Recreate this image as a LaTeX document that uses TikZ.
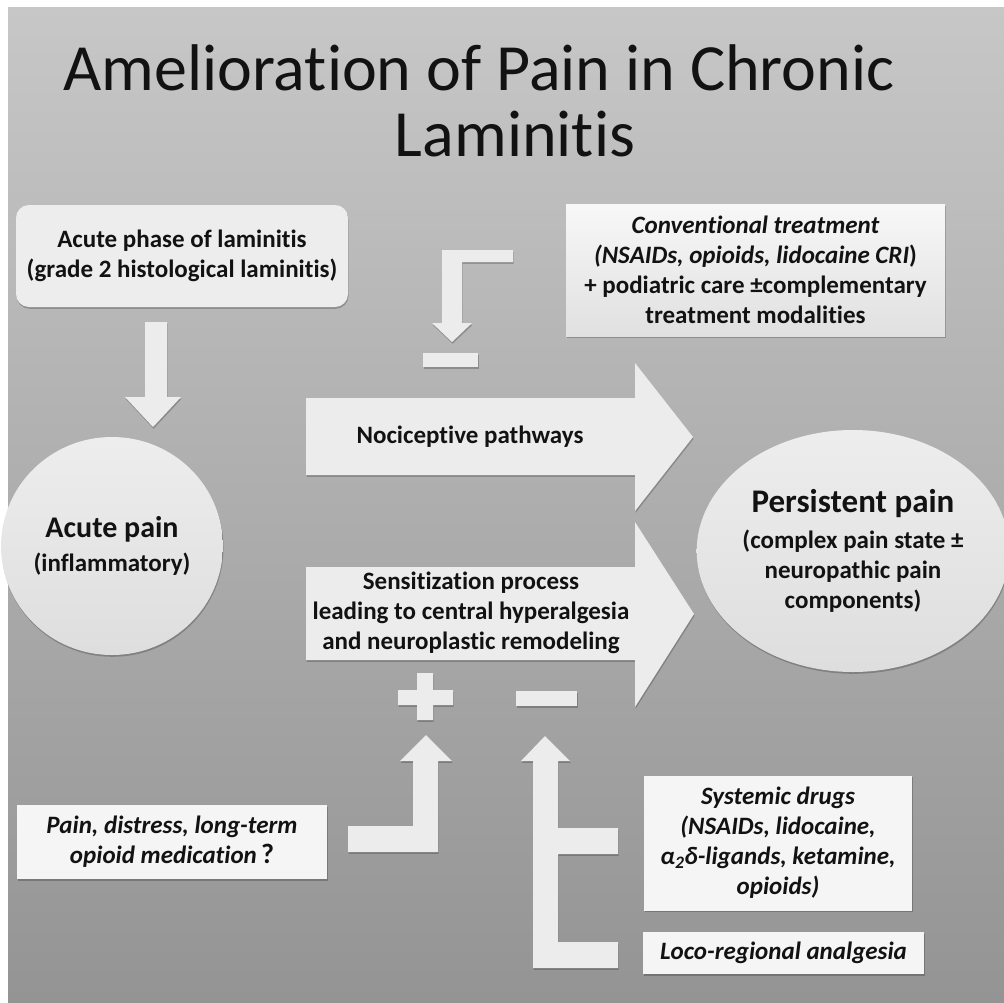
\documentclass[tikz,border=0pt]{standalone}
\usepackage{fontspec}
\setmainfont{Carlito}[Ligatures={NoCommon}]
\usetikzlibrary{shapes.geometric,shadows}
\definecolor{bgA}{gray}{0.50}
\definecolor{bgB}{gray}{0.56}
\definecolor{bgC}{gray}{0.68}
\definecolor{bgD}{gray}{0.80}
\definecolor{bgE}{gray}{0.91}
\definecolor{arrowc}{gray}{0.925}
\definecolor{boxc}{gray}{0.93}
\definecolor{whitebox}{gray}{0.96}
\definecolor{elltop}{gray}{0.93}
\definecolor{ellbot}{gray}{0.87}
\definecolor{inkc}{gray}{0.07}
\pgfdeclareverticalshading{bgshade}{100bp}{color(0bp)=(bgA); color(20bp)=(bgB); color(50bp)=(bgC); color(80bp)=(bgD); color(100bp)=(bgE)}
\begin{document}
\begin{tikzpicture}[x=1pt,y=-1pt,
  txt/.style={font=\fontsize{25}{30}\selectfont\bfseries, text=inkc, align=center},
  itxt/.style={font=\fontsize{25}{30}\selectfont\bfseries\itshape, text=inkc, align=center},
  softshadow/.style={drop shadow={shadow xshift=0.6pt, shadow yshift=-1.8pt, opacity=0.22, fill=black}},
  blockarrow/.style={fill=arrowc, softshadow},
  panel/.style={rectangle, inner sep=0pt, softshadow},
  bubble/.style={ellipse, inner sep=0pt, top color=elltop, bottom color=ellbot, softshadow}]
\useasboundingbox (0,0) rectangle (1004,1002);
\fill[white] (0,0) rectangle (1004,1002);
\shade[shading=bgshade] (8,7) rectangle (1004,1002);

% title
\node[font=\fontsize{66}{66}\selectfont, text=inkc] (title1) at (479,68) {Amelioration of Pain in Chronic};
\node[font=\fontsize{66}{66}\selectfont, text=inkc] (title2) at (515,134) {Laminitis};

% boxes
\node[panel, rounded corners=13pt, fill=boxc, minimum width=332pt, minimum height=102pt, txt] (acutephase) at (182,256)
  {Acute phase of laminitis\\(grade 2 histological laminitis)};
\node[panel, top color=white!97!black, bottom color=white!88!black, minimum width=379pt, minimum height=132pt, txt] (conv) at (755.5,270)
  {\itshape Conventional treatment\\\itshape (NSAIDs, opioids, lidocaine CRI\/\upshape)\\+ podiatric care ±complementary\\treatment modalities};
\node[panel, fill=whitebox, minimum width=310pt, minimum height=74pt, itxt] (distress) at (172,842)
  {Pain, distress, long-term\\opioid medication\,{\upshape\fontsize{28}{30}\selectfont ?}};
\node[panel, fill=whitebox, minimum width=268pt, minimum height=135pt, itxt] (systemic) at (778,843)
  {Systemic drugs\\(NSAIDs, lidocaine,\\α\textsubscript{2}δ-ligands, ketamine,\\opioids)};
\node[panel, fill=whitebox, minimum width=281pt, minimum height=42pt, itxt] (loco) at (783.5,953)
  {Loco-regional analgesia};

% ellipses
\node[bubble, minimum width=198pt, minimum height=218pt, txt] (acute) at (112,546)
  {{\fontsize{30}{30}\selectfont Acute pain}\\[4pt]{\fontsize{25}{30}\selectfont (inflammatory)}};
\node[bubble, minimum width=290pt, minimum height=242pt, txt] (persist) at (853,551)
  {{\fontsize{33}{30}\selectfont Persistent pain}\\[6pt](complex pain state ±\\neuropathic pain\\components)};

% down arrow from acute phase to acute pain
\fill[blockarrow] (145,322) -- (167,322) -- (167,397) -- (181,397) -- (153,427) -- (125,397) -- (145,397) -- cycle;

% big arrows
\fill[blockarrow] (306,398) -- (635,398) -- (635,363) -- (693,437) -- (635,511) -- (635,475) -- (306,475) -- cycle;
\node[txt] (noci) at (470,437) {Nociceptive pathways};
\fill[blockarrow] (306,567) -- (635,567) -- (635,522) -- (694,614) -- (635,707) -- (635,660) -- (306,660) -- cycle;
\node[txt] (sens) at (471,613) {Sensitization process\\leading to central hyperalgesia\\and neuroplastic remodeling};

% inhibitory arrow from conventional treatment
\fill[blockarrow] (513,250) -- (442,250) -- (442,323) -- (432,323) -- (452,342) -- (472,323) -- (462,323) -- (462,262) -- (513,262) -- cycle;
\fill[blockarrow] (423,353) rectangle (478,367);

% plus and minus signs
\fill[blockarrow] (398,690) -- (417,690) -- (417,673) -- (433,673) -- (433,690) -- (453,690) -- (453,705) -- (433,705) -- (433,720) -- (417,720) -- (417,705) -- (398,705) -- cycle;
\fill[blockarrow] (516,691) rectangle (577,706);

% facilitating arrow from distress
\fill[blockarrow] (348,826) -- (413,826) -- (413,761) -- (400,761) -- (426,735) -- (452,761) -- (438,761) -- (438,852) -- (348,852) -- cycle;

% inhibiting arrow from systemic drugs and loco-regional analgesia
\fill[blockarrow] (545,736) -- (570,761) -- (558,761) -- (558,828) -- (618,828) -- (618,854) -- (558,854) -- (558,942) -- (618,942) -- (618,968) -- (533,968) -- (533,761) -- (521,761) -- cycle;
\end{tikzpicture}
\end{document}
